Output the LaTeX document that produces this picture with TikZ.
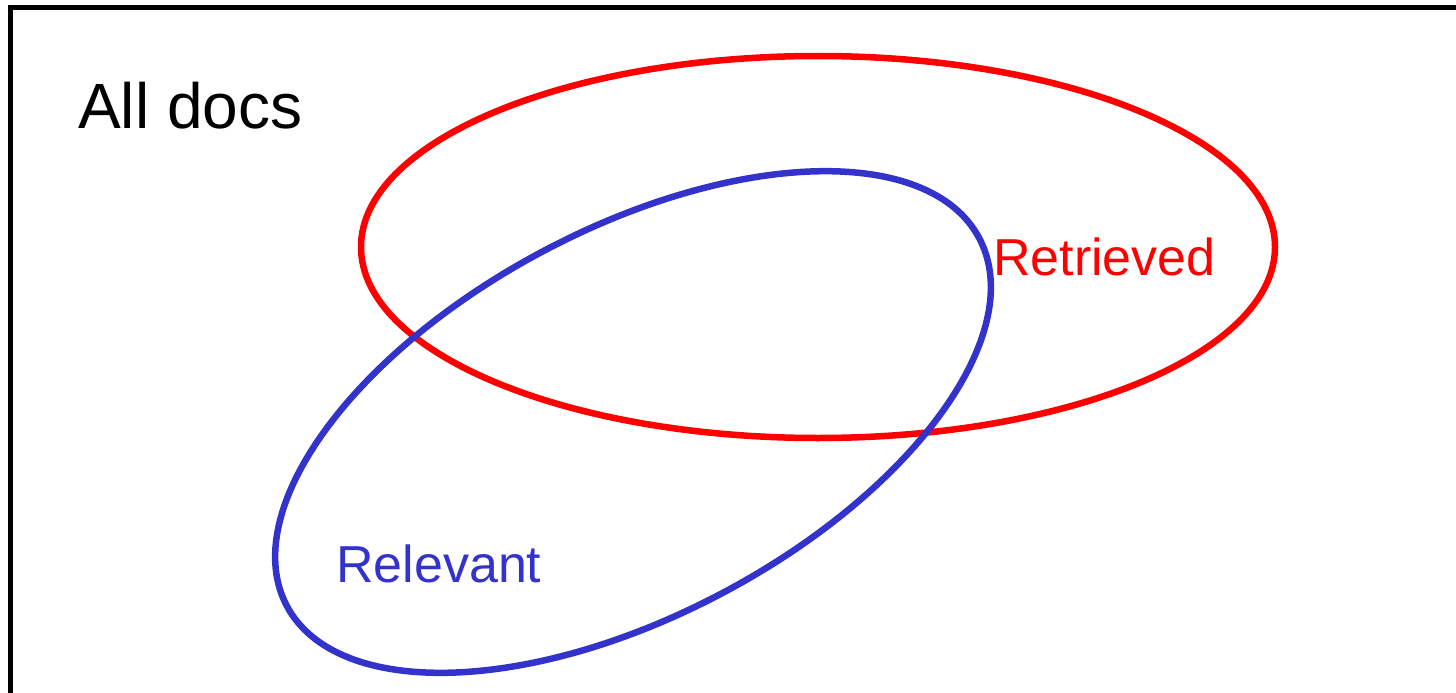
\documentclass[tikz,border=0pt]{standalone}
\usepackage{fontspec}
\setmainfont{Liberation Sans}
\usepackage{tikz}
\usetikzlibrary{positioning}

\definecolor{retrred}{RGB}{255,0,0}
\definecolor{relblue}{RGB}{51,51,204}

\begin{document}
\begin{tikzpicture}[
  x=1pt, y=-1pt,
  setline/.style={line width=6.5pt},
  setlabel/.style={anchor=base west, inner sep=0pt, font=\fontsize{52}{60}\selectfont}
]
\useasboundingbox (0,0) rectangle (1456,693);
\clip (0,0) rectangle (1456,693);

% Rahmen
\draw[line width=5pt] (10.5,8) rectangle (1480,720);

% Mengen
\draw[setline, retrred] (818,247) ellipse [x radius=457, y radius=191];
\draw[setline, relblue] (633,422) ellipse [x radius=392, y radius=193, rotate=28];

% Beschriftungen
\node[setlabel, font=\fontsize{64}{72}\selectfont] (alldocs) at (78,128) {All docs};
\node[setlabel, text=retrred] (retrieved) at (993,275) {Retrieved};
\node[setlabel, text=relblue] (relevant) at (336,582) {Relevant};

\end{tikzpicture}
\end{document}
